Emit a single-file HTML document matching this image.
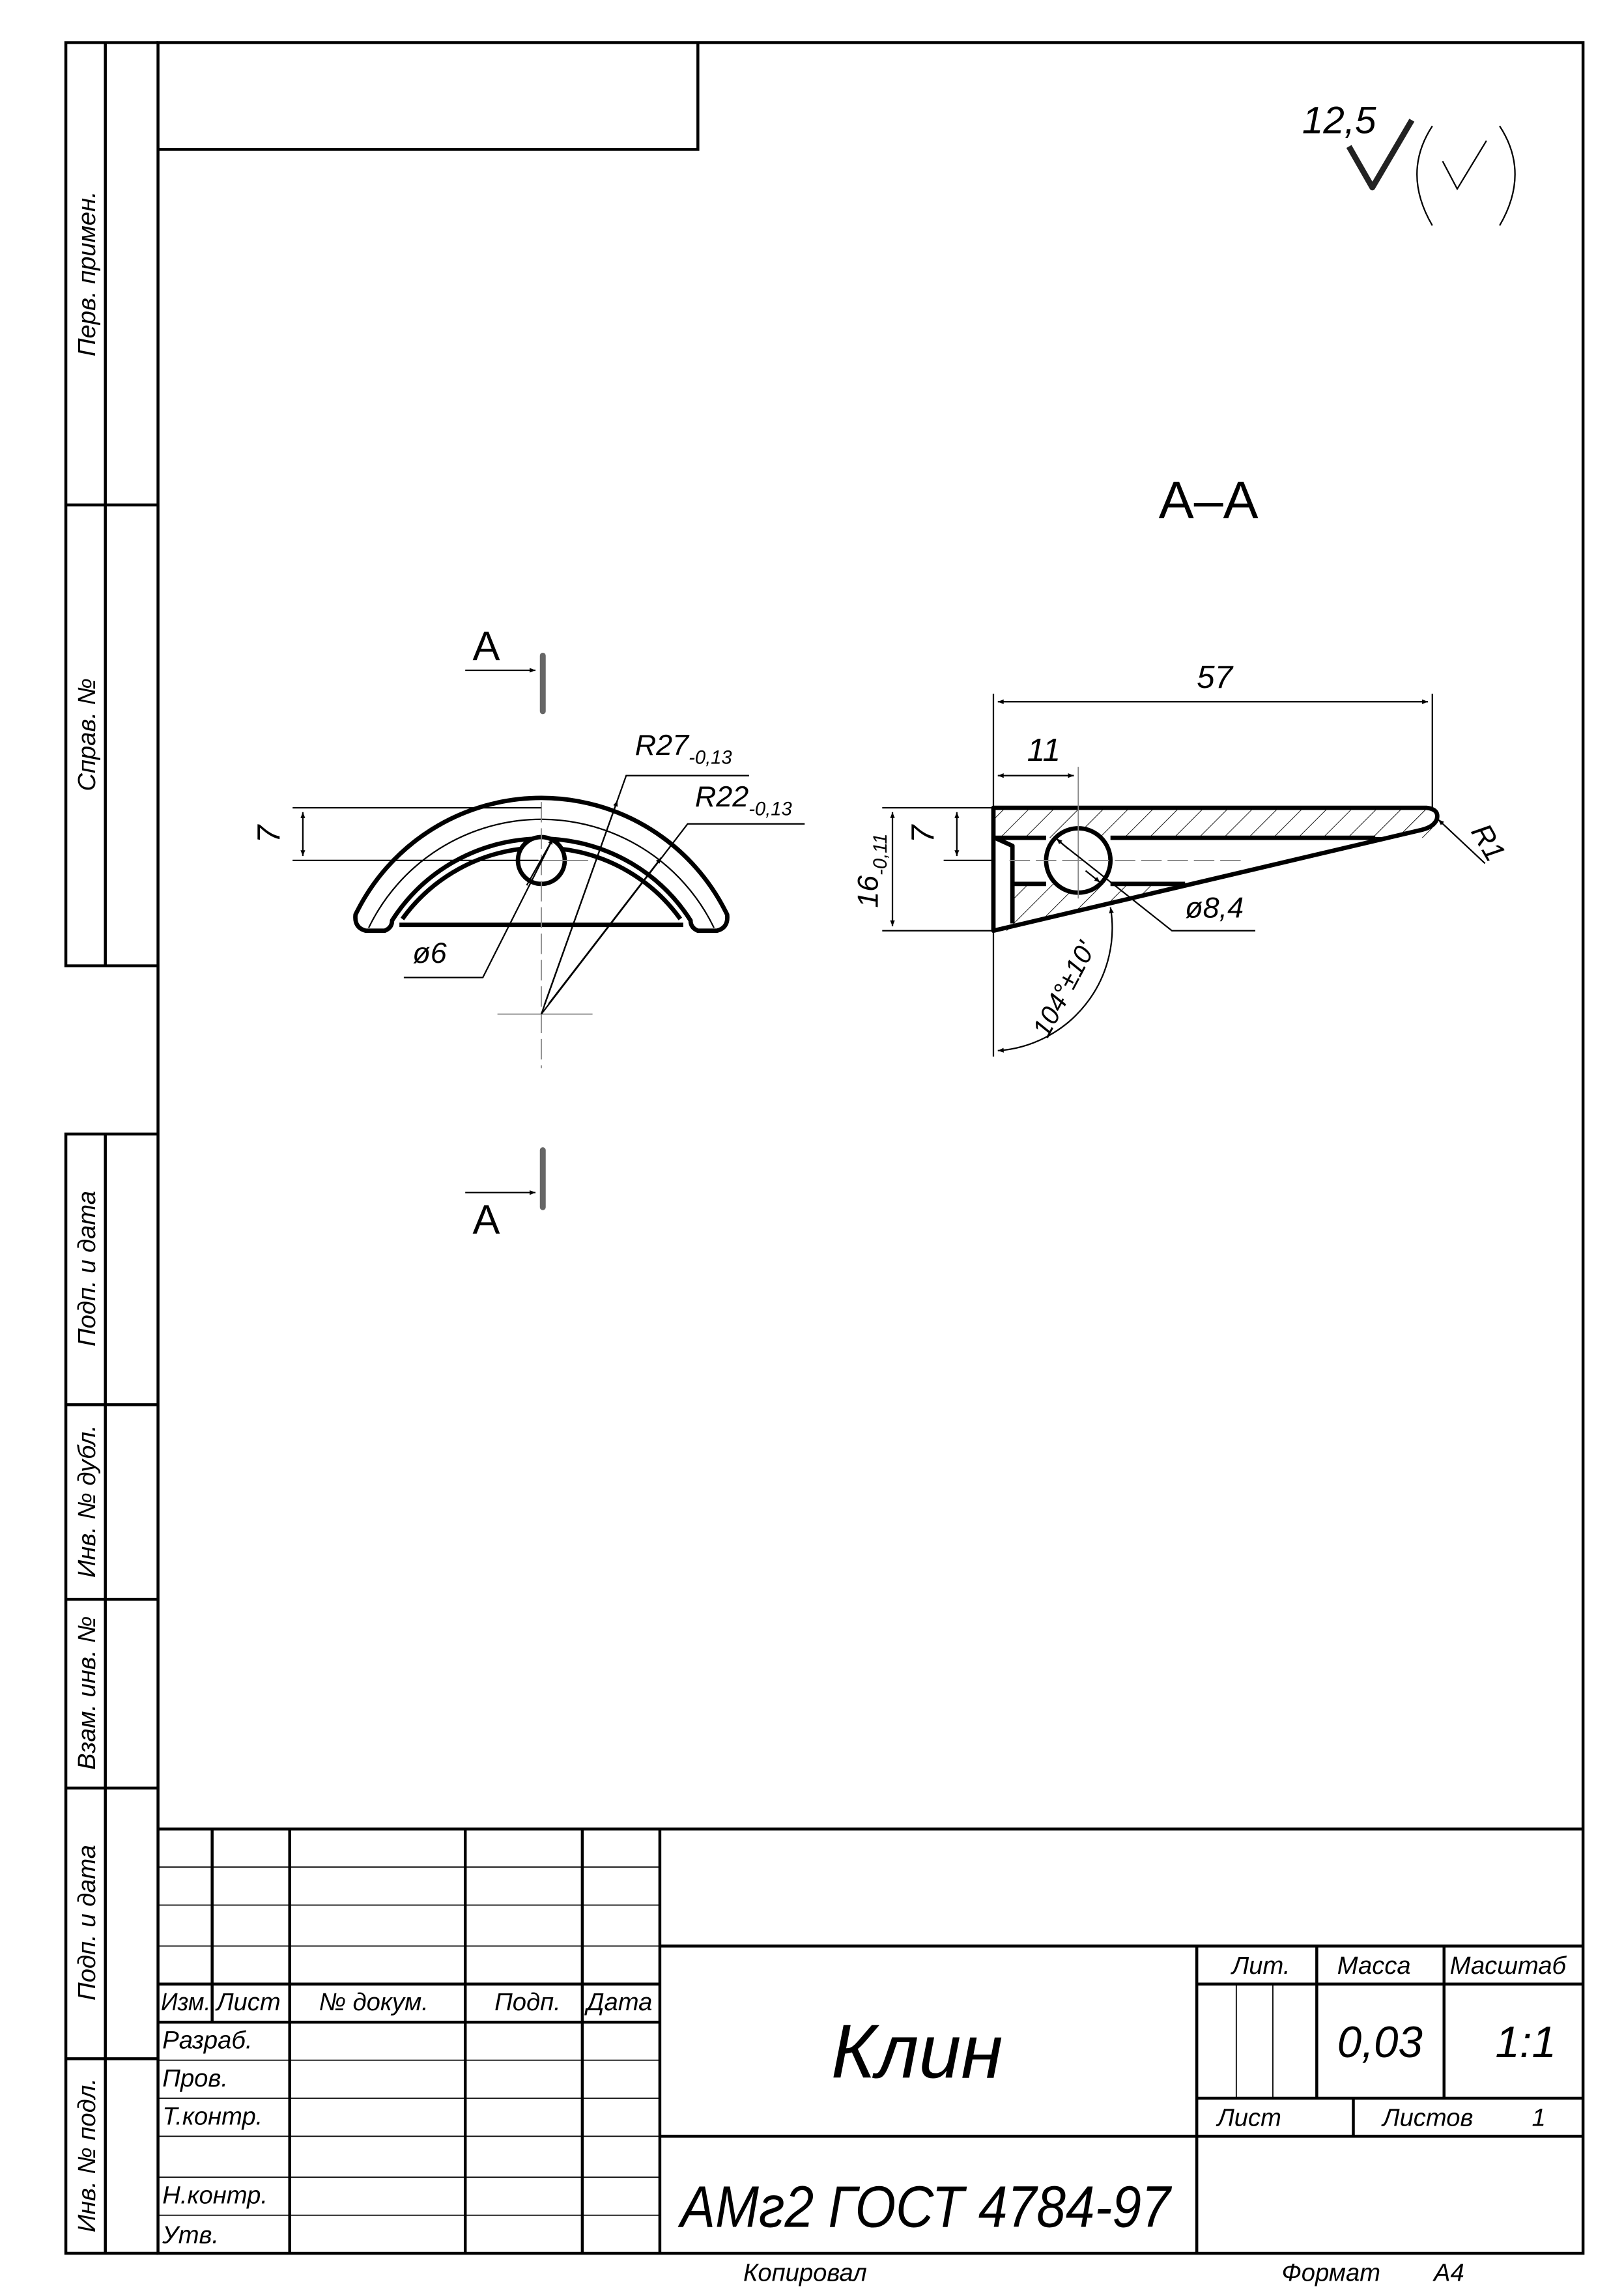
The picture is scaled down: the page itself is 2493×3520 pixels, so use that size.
<!DOCTYPE html>
<html><head><meta charset="utf-8"><style>
html,body{margin:0;padding:0;background:#fff}
svg{display:block}
text{font-family:"Liberation Sans","DejaVu Sans",sans-serif;font-style:italic;fill:#000}
</style></head><body>
<svg width="2493" height="3520" viewBox="0 0 1110 1567" xmlns="http://www.w3.org/2000/svg">
<defs>
<pattern id="h" patternUnits="userSpaceOnUse" width="12" height="12" patternTransform="rotate(45)">
<line x1="0" y1="0" x2="0" y2="12" stroke="#000" stroke-width="0.8"/>
</pattern>
<marker id="a" viewBox="0 0 10 10" refX="10" refY="5" markerWidth="9" markerHeight="4" orient="auto-start-reverse" markerUnits="userSpaceOnUse"><path d="M0,1 L10,5 L0,9 Z" fill="#000"/></marker>
</defs>
<rect width="1110" height="1567" fill="#fff"/>
<g fill="none" stroke="#000" stroke-width="2">
<rect x="108" y="29" width="974" height="1511"/>
<polyline points="108,29 45,29 45,660 108,660"/>
<line x1="72" y1="29" x2="72" y2="660"/>
<line x1="45" y1="345" x2="108" y2="345"/>
<polyline points="108,775 45,775 45,1540 108,1540"/>
<line x1="72" y1="775" x2="72" y2="1540"/>
<line x1="45" y1="960" x2="108" y2="960"/>
<line x1="45" y1="1093" x2="108" y2="1093"/>
<line x1="45" y1="1222" x2="108" y2="1222"/>
<line x1="45" y1="1407" x2="108" y2="1407"/>
<polyline points="108,102 477,102 477,29"/>
</g>
<g font-size="17">
<text transform="translate(65,187) rotate(-90)" text-anchor="middle">Перв. примен.</text>
<text transform="translate(65,502) rotate(-90)" text-anchor="middle">Справ. №</text>
<text transform="translate(65,867) rotate(-90)" text-anchor="middle">Подп. и дата</text>
<text transform="translate(65,1026) rotate(-90)" text-anchor="middle">Инв. № дубл.</text>
<text transform="translate(65,1157) rotate(-90)" text-anchor="middle">Взам. инв. №</text>
<text transform="translate(65,1314) rotate(-90)" text-anchor="middle">Подп. и дата</text>
<text transform="translate(65,1473) rotate(-90)" text-anchor="middle">Инв. № подл.</text>
</g>
<g stroke="#000" fill="none">
<g stroke-width="2">
<line x1="108" y1="1250" x2="1082" y2="1250"/>
<line x1="145" y1="1250" x2="145" y2="1382"/>
<line x1="198" y1="1250" x2="198" y2="1540"/>
<line x1="318" y1="1250" x2="318" y2="1540"/>
<line x1="398" y1="1250" x2="398" y2="1540"/>
<line x1="451" y1="1250" x2="451" y2="1540"/>
<line x1="108" y1="1356" x2="451" y2="1356"/>
<line x1="108" y1="1382" x2="451" y2="1382"/>
<line x1="451" y1="1330" x2="1082" y2="1330"/>
<line x1="451" y1="1460" x2="1082" y2="1460"/>
<line x1="818" y1="1330" x2="818" y2="1540"/>
<line x1="900" y1="1330" x2="900" y2="1434"/>
<line x1="987" y1="1330" x2="987" y2="1434"/>
<line x1="818" y1="1356" x2="1082" y2="1356"/>
<line x1="818" y1="1434" x2="1082" y2="1434"/>
<line x1="925" y1="1434" x2="925" y2="1460"/>
</g>
<g stroke-width="0.8">
<line x1="108" y1="1276" x2="451" y2="1276"/>
<line x1="108" y1="1302" x2="451" y2="1302"/>
<line x1="108" y1="1330" x2="451" y2="1330"/>
<line x1="108" y1="1408" x2="451" y2="1408"/>
<line x1="108" y1="1434" x2="451" y2="1434"/>
<line x1="108" y1="1460" x2="451" y2="1460"/>
<line x1="108" y1="1488" x2="451" y2="1488"/>
<line x1="108" y1="1514" x2="451" y2="1514"/>
<line x1="845" y1="1356" x2="845" y2="1434"/>
<line x1="870" y1="1356" x2="870" y2="1434"/>
</g>
</g>
<g font-size="17">
<text x="110" y="1374" textLength="34" lengthAdjust="spacingAndGlyphs">Изм.</text><text x="148" y="1374">Лист</text>
<text x="218" y="1374">№ докум.</text><text x="338" y="1374">Подп.</text><text x="401" y="1374">Дата</text>
<text x="111" y="1400">Разраб.</text><text x="111" y="1426">Пров.</text>
<text x="111" y="1452">Т.контр.</text><text x="111" y="1506">Н.контр.</text><text x="111" y="1533">Утв.</text>
<text x="842" y="1349">Лит.</text><text x="914" y="1349">Масса</text><text x="991" y="1349">Масштаб</text>
<text x="832" y="1453">Лист</text><text x="945" y="1453">Листов</text><text x="1047" y="1453">1</text>
<text x="508" y="1559">Копировал</text><text x="876" y="1559">Формат</text><text x="980" y="1559">А4</text>
</g>
<text x="914" y="1406" font-size="30">0,03</text>
<text x="1022" y="1406" font-size="30">1:1</text>
<text x="568" y="1420" font-size="52">Клин</text>
<text x="465" y="1522" font-size="40" textLength="335" lengthAdjust="spacingAndGlyphs">АМг2  ГОСТ 4784-97</text>
<text x="890" y="91" font-size="26">12,5</text>
<polyline points="922,100 938,128 965,82" fill="none" stroke="#222" stroke-width="4" stroke-linejoin="round"/>
<path d="M979,86 Q958,118 979,154" fill="none" stroke="#000" stroke-width="1"/>
<path d="M1025,86 Q1046,118 1025,154" fill="none" stroke="#000" stroke-width="1"/>
<polyline points="986,110 996,129 1016,96" fill="none" stroke="#000" stroke-width="1"/>
<text x="792" y="354" font-size="36" style="font-style:normal">А–А</text>
<g stroke="#666" stroke-width="4" stroke-linecap="round">
<line x1="371" y1="448" x2="371" y2="486"/>
<line x1="371" y1="786" x2="371" y2="825"/>
</g>
<line x1="318" y1="458" x2="366" y2="458" stroke="#000" stroke-width="1" marker-end="url(#a)"/>
<line x1="318" y1="815" x2="366" y2="815" stroke="#000" stroke-width="1" marker-end="url(#a)"/>
<text x="323" y="451" font-size="28" style="font-style:normal">А</text>
<text x="323" y="843" font-size="28" style="font-style:normal">А</text>
<!-- left view -->
<g fill="none" stroke="#000">
<path d="M250,636 L263,636 Q268,634 268,629 A121,121 0 0 1 472,629 Q472,634 477,636 L490,636 Q498,634 497,625 A141,141 0 0 0 243,625 Q242,634 250,636 Z" stroke-width="3" stroke-linejoin="round"/>
<path d="M275,628 A117,117 0 0 1 465,628" stroke-width="3"/>
<path d="M252,634 A131,131 0 0 1 488,634" stroke-width="1"/>
<line x1="273" y1="632" x2="467" y2="632" stroke-width="3"/>
<circle cx="370" cy="588" r="16" stroke-width="3" fill="#fff"/>
</g>
<g stroke="#888" stroke-width="0.8" fill="none">
<line x1="370" y1="548" x2="370" y2="730" stroke-dasharray="14,4"/>
<line x1="340" y1="693" x2="405" y2="693"/>
<line x1="350" y1="588" x2="402" y2="588"/>
</g>
<g stroke="#000" stroke-width="1" fill="none">
<line x1="200" y1="552" x2="370" y2="552"/>
<line x1="200" y1="588" x2="368" y2="588"/>
<line x1="207" y1="555" x2="207" y2="585" marker-start="url(#a)" marker-end="url(#a)"/>
<polyline points="370,693 428,530 512,530"/><line x1="372" y1="687" x2="422" y2="547" marker-end="url(#a)"/>
<polyline points="370,693 470,563 550,563"/><line x1="375" y1="686" x2="452" y2="586" marker-end="url(#a)"/>
<polyline points="276,668 330,668 378,573"/><line x1="360" y1="605" x2="378" y2="573" marker-end="url(#a)"/>
</g>
<text transform="translate(191,570) rotate(-90)" font-size="22" text-anchor="middle">7</text>
<text x="434" y="516" font-size="20">R27<tspan font-size="13" dy="6">-0,13</tspan></text>
<text x="475" y="551" font-size="20">R22<tspan font-size="13" dy="6">-0,13</tspan></text>
<text x="282" y="658" font-size="20">ø6</text>
<!-- section view -->
<clipPath id="c1"><rect x="679" y="552" width="300" height="20.5"/><polygon points="692,604 815,604 679,636 692,636"/></clipPath>
<rect x="670" y="545" width="320" height="100" fill="url(#h)" clip-path="url(#c1)"/>
<circle cx="737" cy="588" r="22" fill="#fff" stroke="#000" stroke-width="3"/>
<g fill="none" stroke="#000" stroke-width="3" stroke-linejoin="round">
<path d="M679,636 L679,552 L975,552 Q984,553 982,560 Q980,565 972,567 Z"/>
<polyline points="679,572.5 715,572.5"/><polyline points="759,572.5 940,572.5"/>
<polyline points="681,573 692,578 692,631"/>
<polyline points="692,604 715,604"/><polyline points="759,604 810,604"/>
</g>
<line x1="920" y1="572.5" x2="948" y2="572.5" stroke="#000" stroke-width="1"/>
<g stroke="#888" stroke-width="0.8" fill="none">
<line x1="690" y1="588" x2="850" y2="588" stroke-dasharray="14,4"/>
<line x1="737" y1="524" x2="737" y2="614"/>
</g>
<g stroke="#000" stroke-width="1" fill="none">
<line x1="679" y1="474" x2="679" y2="722"/>
<line x1="979" y1="474" x2="979" y2="552"/>
<line x1="682" y1="479.5" x2="976" y2="479.5" marker-start="url(#a)" marker-end="url(#a)"/>
<line x1="682" y1="530" x2="734" y2="530" marker-start="url(#a)" marker-end="url(#a)"/>
<line x1="645" y1="588" x2="679" y2="588"/>
<line x1="603" y1="552" x2="679" y2="552"/>
<line x1="603" y1="636" x2="679" y2="636"/>
<line x1="654" y1="555" x2="654" y2="585" marker-start="url(#a)" marker-end="url(#a)"/>
<line x1="610" y1="555" x2="610" y2="633" marker-start="url(#a)" marker-end="url(#a)"/>
<polyline points="858,636 801,636 724,575"/>
<line x1="730" y1="580" x2="722" y2="573" marker-end="url(#a)"/>
<line x1="742" y1="595" x2="752" y2="603" marker-end="url(#a)"/>
<line x1="1015" y1="590" x2="983" y2="560" marker-end="url(#a)"/>
<path d="M682,718 A84,84 0 0 0 759,620" marker-start="url(#a)" marker-end="url(#a)"/>
</g>
<text x="818" y="470" font-size="22">57</text>
<text x="702" y="520" font-size="22">11</text>
<text transform="translate(638,570) rotate(-90)" font-size="22" text-anchor="middle">7</text>
<text transform="translate(600,595) rotate(-90)" font-size="20" text-anchor="middle">16<tspan font-size="13" dy="6">-0,11</tspan></text>
<text x="810" y="627" font-size="20">ø8,4</text>
<text transform="translate(1005,568) rotate(60)" font-size="20">R1</text>
<text transform="translate(716,710) rotate(-62)" font-size="18">104°±10'</text>
</svg>
</body></html>
